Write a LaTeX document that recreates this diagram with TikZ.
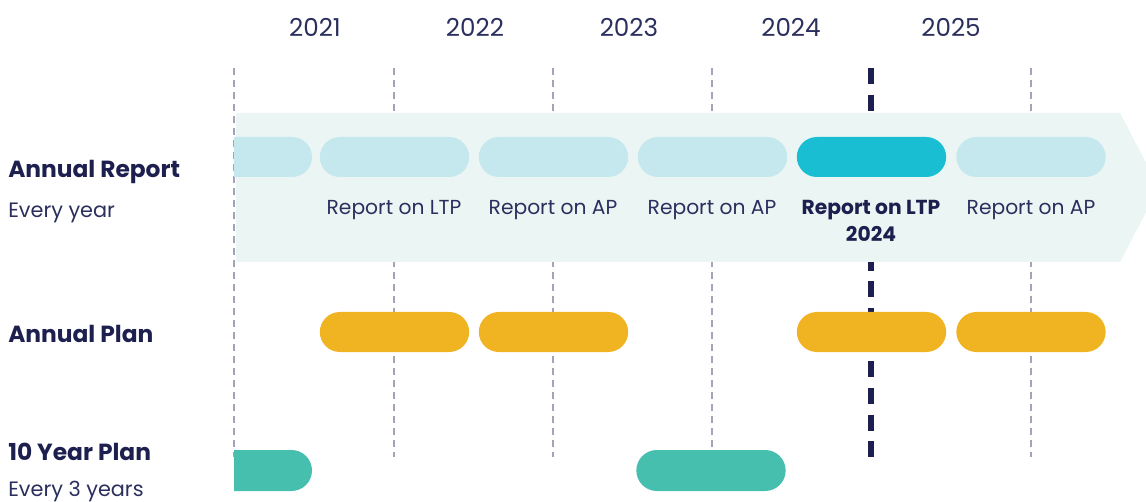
\documentclass[tikz,border=0pt]{standalone}
\usepackage{fontspec}
\setmainfont{Poppins}
\usetikzlibrary{shapes.misc}
\definecolor{ink}{HTML}{1D1F4E}
\definecolor{soft}{HTML}{2B2F5E}
\definecolor{bandfill}{HTML}{EBF5F4}
\definecolor{pale}{HTML}{C5E8EE}
\definecolor{current}{HTML}{1ABED3}
\definecolor{planfill}{HTML}{F0B322}
\definecolor{ltpfill}{HTML}{46BFAF}
\definecolor{gridline}{HTML}{A5A3B8}
\tikzset{
  pill/.style={rounded rectangle, inner sep=0pt, minimum height=30pt, minimum width=112pt},
  halfpill/.style={pill, rounded rectangle west arc=none, minimum width=58.5pt},
  year/.style={font=\fontsize{18.5}{22}\selectfont, text=soft},
  caption/.style={font=\fontsize{15.2}{20.25}\selectfont, text=soft, align=center, anchor=base},
  rowtitle/.style={font=\fontsize{17.5}{21}\selectfont\bfseries, text=ink, anchor=base west, inner sep=0pt},
  rownote/.style={font=\fontsize{15.6}{20}\selectfont, text=soft, anchor=base west, inner sep=0pt},
  yearline/.style={draw=gridline, line width=2.1pt, dash pattern=on 5.6pt off 3.4pt},
  nowline/.style={draw=ink, line width=3.9pt, dash pattern=on 12pt off 8pt},
}
\begin{document}
\begin{tikzpicture}[x=0.75pt, y=-0.75pt]
\useasboundingbox (0,0) rectangle (1146,502);
\clip (0,0) rectangle (1146,502);

% year headings
\node[year] (y21) at (315,27) {2021};
\node[year] (y22) at (475,27) {2022};
\node[year] (y23) at (629,27) {2023};
\node[year] (y24) at (791,27) {2024};
\node[year] (y25) at (951,27) {2025};

% year boundary lines
\foreach \i/\x in {1/234,2/394,3/553,4/712,6/1031} {
  \coordinate (t\i) at (\x,68);
  \coordinate (b\i) at (\x,457);
  \draw[yearline] (t\i) -- (b\i);
}
\coordinate (t5) at (871,68);
\coordinate (b5) at (871,457);
\draw[nowline] (t5) -- (b5);

% annual report band
\fill[bandfill] (236,113) -- (1120,113) -- (1159,187.5) -- (1120,262) -- (236,262) -- cycle;

% annual report pills
\node[halfpill, fill=pale] (ar1) at (273,157) {};
\node[pill, fill=pale] (ar2) at (394.5,157) {};
\node[pill, fill=pale] (ar3) at (553.5,157) {};
\node[pill, fill=pale] (ar4) at (712.5,157) {};
\node[pill, fill=current] (ar5) at (871.5,157) {};
\node[pill, fill=pale] (ar6) at (1031,157) {};

% report captions
\node[caption] (c2) at (394,215) {Report on LTP};
\node[caption] (c3) at (553,215) {Report on AP};
\node[caption] (c4) at (712,215) {Report on AP};
\node[caption, font=\fontsize{15.2}{20.25}\selectfont\bfseries, text=ink] (c5) at (871,242) {Report on LTP\\2024};
\node[caption] (c6) at (1031,215) {Report on AP};

% annual plan pills
\node[pill, fill=planfill] (ap2) at (394.5,332) {};
\node[pill, fill=planfill] (ap3) at (553.5,332) {};
\node[pill, fill=planfill] (ap5) at (871.5,332) {};
\node[pill, fill=planfill] (ap6) at (1031,332) {};

% ten year plan pills
\node[halfpill, fill=ltpfill, minimum height=30.75pt] (lt1) at (273,470.5) {};
\node[pill, fill=ltpfill, minimum height=30.75pt] (lt2) at (711,470.5) {};

% row titles
\node[rowtitle] (rt1) at (8,178) {Annual Report};
\node[rownote] (rn1) at (8,218) {Every year};
\node[rowtitle] (rt2) at (8,343) {Annual Plan};
\node[rowtitle] (rt3) at (8,460) {10 Year Plan};
\node[rownote] (rn3) at (8,496) {Every 3 years};
\end{tikzpicture}
\end{document}
